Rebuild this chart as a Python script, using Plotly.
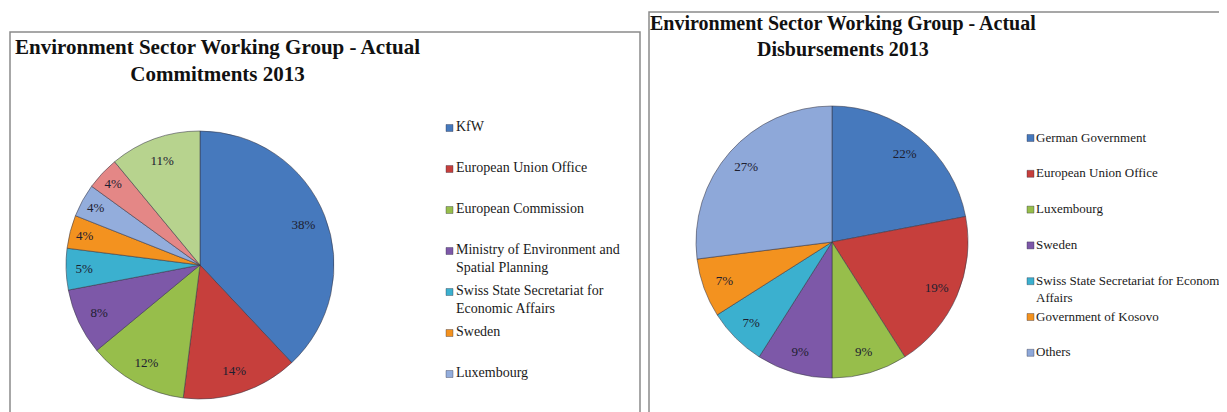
import textwrap
import plotly.graph_objects as go

# ---------------- data ----------------
commit_labels = [
    "KfW",
    "European Union Office",
    "European Commission",
    "Ministry of Environment and Spatial Planning",
    "Swiss State Secretariat for Economic Affairs",
    "Sweden",
    "Luxembourg",
    "Other donor A",
    "Other donor B",
]
commit_values = [38, 14, 12, 8, 5, 4, 4, 4, 11]
commit_colors = ["#4679BD", "#C63F3C", "#97BE4B", "#7D58A8", "#3BB0CF",
                 "#F3921F", "#93ADDC", "#E48786", "#B7D38E"]

disb_labels = [
    "German Government",
    "European Union Office",
    "Luxembourg",
    "Sweden",
    "Swiss State Secretariat for Economic Affairs",
    "Government of Kosovo",
    "Others",
]
disb_values = [22, 19, 9, 9, 7, 7, 27]
disb_colors = ["#4679BD", "#C63F3C", "#97BE4B", "#7D58A8", "#3BB0CF",
               "#F3921F", "#8EA8D9"]

title_left = "Environment Sector Working Group - Actual<br>Commitments 2013"
title_right = "Environment Sector Working Group - Actual<br>Disbursements 2013"

# ---------------- layout helpers ----------------
W, H = 1227, 412
OFF = 8  # page body margin offset
SERIF = "Liberation Serif, Times New Roman, serif"


def px(x):
    return (x - OFF) / W


def py(y):
    return 1 - (y - OFF) / H


fig = go.Figure()


def add_pie(labels, values, colors, cx, cy, r, hole):
    dom = dict(x=[px(cx - r), px(cx + r)], y=[py(cy + r), py(cy - r)])
    # filled pie (no text)
    fig.add_trace(go.Pie(
        labels=labels, values=values, sort=False, direction="clockwise", rotation=0,
        domain=dom,
        marker=dict(colors=colors, line=dict(color="rgba(55,55,70,0.55)", width=1)),
        textinfo="none",
        showlegend=False,
        hovertemplate="%{label}: %{percent:.0%}<extra></extra>",
    ))
    # transparent ring carrying the percentage labels near the rim
    fig.add_trace(go.Pie(
        labels=labels, values=values, sort=False, direction="clockwise", rotation=0,
        domain=dom, hole=hole,
        marker=dict(colors=["rgba(0,0,0,0)"] * len(values), line=dict(width=0)),
        texttemplate="%{percent:.0%}",
        textposition="inside",
        insidetextorientation="horizontal",
        textfont=dict(family=SERIF, size=13, color="#1d2030"),
        showlegend=False,
        hoverinfo="skip",
    ))


add_pie(commit_labels, commit_values, commit_colors, 200, 265, 134, 0.66)
add_pie(disb_labels, disb_values, disb_colors, 832, 242, 136, 0.68)

shapes = []
annotations = []

# frames
shapes.append(dict(type="rect", xref="paper", yref="paper",
                   x0=px(10), x1=px(640), y0=py(440), y1=py(32),
                   line=dict(color="#8a8a8a", width=1.5), fillcolor="rgba(0,0,0,0)"))
shapes.append(dict(type="rect", xref="paper", yref="paper",
                   x0=px(649), x1=px(1250), y0=py(440), y1=py(12),
                   line=dict(color="#8a8a8a", width=1.5), fillcolor="rgba(0,0,0,0)"))

# titles
annotations.append(dict(text="<b>" + title_left + "</b>", xref="paper", yref="paper",
                        x=px(217), y=py(60.5), xanchor="center", yanchor="middle",
                        showarrow=False, align="center",
                        font=dict(family=SERIF, size=21, color="#111111")))
annotations.append(dict(text="<b>" + title_right + "</b>", xref="paper", yref="paper",
                        x=px(843), y=py(36), xanchor="center", yanchor="middle",
                        showarrow=False, align="center",
                        font=dict(family=SERIF, size=20, color="#111111")))


def add_legend(labels, colors, n_visible, x_marker, x_text, y0, step, wrap, fsize):
    for i, (lab, col) in enumerate(zip(labels[:n_visible], colors[:n_visible])):
        yc = y0 + i * step
        text = "<br>".join(textwrap.wrap(lab, wrap))
        annotations.append(dict(text=text, xref="paper", yref="paper",
                                x=px(x_text), y=py(yc - fsize * 0.65 - 1),
                                xanchor="left", yanchor="top", align="left",
                                showarrow=False, borderpad=0,
                                font=dict(family=SERIF, size=fsize, color="#1a1a1a")))
        shapes.append(dict(type="rect", xref="paper", yref="paper",
                           x0=px(x_marker), x1=px(x_marker + 7),
                           y0=py(yc + 3.5), y1=py(yc - 3.5),
                           fillcolor=col, line=dict(color="rgba(40,40,60,0.6)", width=0.6)))


# the commitments legend is cut by the frame edge after 7 entries
add_legend(commit_labels, commit_colors, 7, 446, 455, 128, 41, 27, 14)
add_legend(disb_labels, disb_colors, 7, 1027, 1035, 138, 35.8, 36, 13)

fig.update_layout(
    width=W, height=H,
    margin=dict(l=0, r=0, t=0, b=0),
    paper_bgcolor="white",
    plot_bgcolor="white",
    shapes=shapes,
    annotations=annotations,
    uniformtext=dict(minsize=13, mode="show"),
)

fig.write_html("out.html")
